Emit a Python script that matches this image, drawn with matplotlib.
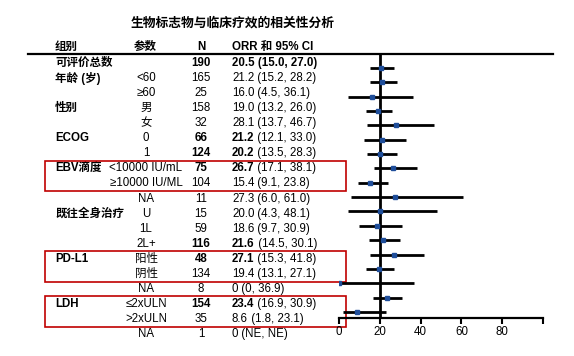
import matplotlib
matplotlib.use("Agg")
import matplotlib.pyplot as plt
from matplotlib.patches import Rectangle

plt.rcParams['font.family'] = ['Liberation Sans', 'Noto Sans CJK SC', 'DejaVu Sans']

# 表格数据
groups = ['可评价总数', '年龄 (岁)', '', '性别', '', 'ECOG', '', 'EBV滴度', '', '',
          '既往全身治疗', '', '', 'PD-L1', '', '', 'LDH', '', '']
params = ['', '<60', '≥60', '男', '女', '0', '1', '<10000 IU/mL', '≥10000 IU/ML', 'NA',
          'U', '1L', '2L+', '阳性', '阴性', 'NA', '≤2xULN', '>2xULN', 'NA']
n_vals = [190, 165, 25, 158, 32, 66, 124, 75, 104, 11, 15, 59, 116, 48, 134, 8, 154, 35, 1]
orr = [20.5, 21.2, 16.0, 19.0, 28.1, 21.2, 20.2, 26.7, 15.4, 27.3, 20.0, 18.6, 21.6,
       27.1, 19.4, 0, 23.4, 8.6, None]
lo = [15.0, 15.2, 4.5, 13.2, 13.7, 12.1, 13.5, 17.1, 9.1, 6.0, 4.3, 9.7, 14.5,
      15.3, 13.1, 0, 16.9, 1.8, None]
hi = [27.0, 28.2, 36.1, 26.0, 46.7, 33.0, 28.3, 38.1, 23.8, 61.0, 48.1, 30.9, 30.1,
      41.8, 27.1, 36.9, 30.9, 23.1, None]
orr_text = ['20.5', '21.2', '16.0', '19.0', '28.1', '21.2', '20.2', '26.7', '15.4', '27.3',
            '20.0', '18.6', '21.6', '27.1', '19.4', '0', '23.4', '8.6', '0']
ci_text = ['(15.0, 27.0)', '(15.2, 28.2)', '(4.5, 36.1)', '(13.2, 26.0)', '(13.7, 46.7)',
           '(12.1, 33.0)', '(13.5, 28.3)', '(17.1, 38.1)', '(9.1, 23.8)', '(6.0, 61.0)',
           '(4.3, 48.1)', '(9.7, 30.9)', '(14.5, 30.1)', '(15.3, 41.8)', '(13.1, 27.1)',
           '(0, 36.9)', '(16.9, 30.9)', '(1.8, 23.1)', '(NE, NE)']
bold_rows = [0, 5, 6, 7, 12, 13, 16]   # N 和 ORR 加粗的行
boxes = [(7, 8), (13, 14), (16, 17)]     # 红框的行

W, H = 574, 356
fig = plt.figure(figsize=(W / 100, H / 100), dpi=100)

# 表格部分用像素坐标
tab = fig.add_axes([0, 0, 1, 1])
tab.set_xlim(0, W)
tab.set_ylim(H, 0)
tab.axis('off')

fs = 8.3
tab.text(233, 23, '生物标志物与临床疗效的相关性分析', fontsize=9.2, fontweight='bold',
         ha='center', va='center')
hy = 47
tab.text(55, hy, '组别', fontsize=fs, fontweight='bold', va='center')
tab.text(145, hy, '参数', fontsize=fs, fontweight='bold', va='center', ha='center')
tab.text(201, hy, 'N', fontsize=fs, fontweight='bold', va='center', ha='center')
tab.text(232, hy, 'ORR 和 95% CI', fontsize=fs, fontweight='bold', va='center')
tab.plot([28, 553], [54, 54], color='black', lw=1.6)

row_y = lambda i: 63 + i * 15.06
for i in range(len(params)):
    y = row_y(i)
    b = 'bold' if i in bold_rows else 'normal'
    if groups[i]:
        tab.text(55, y, groups[i], fontsize=fs, fontweight='bold', va='center')
    tab.text(146, y, params[i], fontsize=fs, va='center', ha='center')
    tab.text(201, y, str(n_vals[i]), fontsize=fs, fontweight=b, va='center', ha='center')
    if i == 0:
        tab.text(232, y, orr_text[i] + ' ' + ci_text[i], fontsize=fs, fontweight='bold',
                 va='center')
    else:
        t = tab.text(232, y, orr_text[i], fontsize=fs, fontweight=b, va='center')
        tab.annotate(' ' + ci_text[i], xy=(1, 0.5), xycoords=t, fontsize=fs, va='center')

for a, b2 in boxes:
    y0 = row_y(a) - 7.5
    y1 = row_y(b2) + 8
    tab.add_patch(Rectangle((45, y0), 346 - 45, y1 - y0, fill=False,
                            edgecolor='#c00000', lw=1.2, zorder=5))

# 森林图
x0, x1 = 339, 543
ytop, ybot = 55, 318
fx = fig.add_axes([x0 / W, 1 - ybot / H, (x1 - x0) / W, (ybot - ytop) / H])
fx.patch.set_alpha(0)
fx.set_xlim(0, 100)
k_top = (ytop - 68) / 14.35
k_bot = (ybot - 68) / 14.35
fx.set_ylim(k_bot, k_top)
fx.axvline(20, color='black', lw=2)
for i in range(len(orr)):
    if orr[i] is None:
        continue
    fx.plot([lo[i], hi[i]], [i, i], color='black', lw=2, solid_capstyle='butt')
    fx.plot(orr[i], i, 's', color='#1f4e9a', ms=2.5, zorder=3)

for s in ['top', 'right', 'left']:
    fx.spines[s].set_visible(False)
fx.spines['bottom'].set_linewidth(1.6)
fx.set_yticks([])
fx.set_xticks([0, 20, 40, 60, 80, 100])
fx.set_xticklabels(['0', '20', '40', '60', '80', ''])
fx.tick_params(axis='x', length=4, width=1.5, labelsize=fs, pad=2)

fig.savefig('out.png', dpi=100)
